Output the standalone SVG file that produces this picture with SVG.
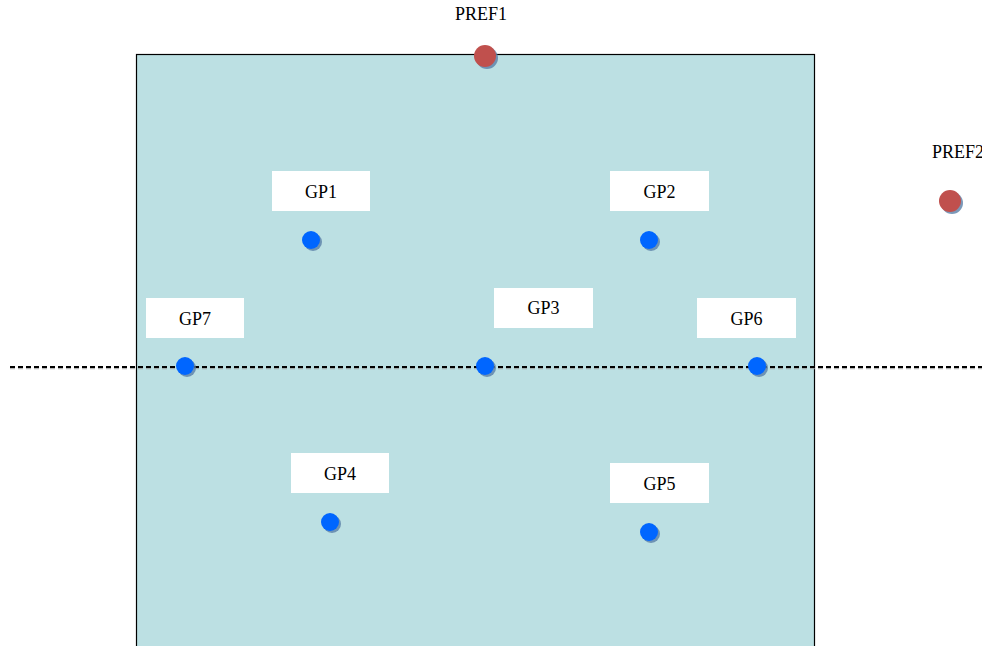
<svg xmlns="http://www.w3.org/2000/svg" width="982" height="646" viewBox="0 0 982 646">
  <style>
    text { font-family: 'Liberation Serif', 'DejaVu Serif', serif; font-size: 18px; fill: #000000; text-anchor: middle; }
    .box { fill: #FFFFFF; }
    .gp { fill: #0066FF; }
    .ref { fill: #C0504D; }
    .shadow { fill: #5A7FA8; opacity: 0.8; }
  </style>

  <rect x="0" y="0" width="982" height="646" fill="#FFFFFF"/>

  <!-- field area -->
  <rect id="field" x="136.5" y="54.5" width="678" height="600" fill="#BCE0E3" stroke="#000" stroke-width="1.2"/>

  <!-- connectors: centre line -->
  <g id="connectors">
    <line x1="10" y1="368.5" x2="982" y2="368.5" stroke="#999" stroke-width="1.5" stroke-dasharray="5 3" opacity="0.7"/>
    <line x1="10" y1="367" x2="982" y2="367" stroke="#000" stroke-width="2" stroke-dasharray="5 3"/>
  </g>

  <!-- reference points -->
  <g id="PREF1">
    <text x="481" y="20" font-family="Liberation Serif, serif">PREF1</text>
    <circle class="shadow" cx="487" cy="58" r="11"/>
    <circle class="ref" cx="485" cy="56" r="11"/>
  </g>
  <g id="PREF2">
    <text x="958" y="158" font-family="Liberation Serif, serif">PREF2</text>
    <circle class="shadow" cx="952" cy="203" r="11"/>
    <circle class="ref" cx="950" cy="201" r="11"/>
  </g>

  <!-- gauge points -->
  <g id="GP1">
    <rect class="box" x="272" y="171" width="98" height="40"/>
    <text x="321" y="198" font-family="Liberation Serif, serif">GP1</text>
    <circle class="shadow" cx="313" cy="242" r="9"/>
    <circle class="gp" cx="311" cy="240" r="9"/>
  </g>
  <g id="GP2">
    <rect class="box" x="610" y="171" width="99" height="40"/>
    <text x="659.5" y="198" font-family="Liberation Serif, serif">GP2</text>
    <circle class="shadow" cx="651" cy="242" r="9"/>
    <circle class="gp" cx="649" cy="240" r="9"/>
  </g>
  <g id="GP3">
    <rect class="box" x="494" y="288" width="99" height="40"/>
    <text x="543.5" y="314" font-family="Liberation Serif, serif">GP3</text>
    <circle class="shadow" cx="487" cy="368" r="9"/>
    <circle class="gp" cx="485" cy="366" r="9"/>
  </g>
  <g id="GP4">
    <rect class="box" x="291" y="453" width="98" height="40"/>
    <text x="340" y="480" font-family="Liberation Serif, serif">GP4</text>
    <circle class="shadow" cx="332" cy="524" r="9"/>
    <circle class="gp" cx="330" cy="522" r="9"/>
  </g>
  <g id="GP5">
    <rect class="box" x="610" y="463" width="99" height="40"/>
    <text x="659.5" y="490" font-family="Liberation Serif, serif">GP5</text>
    <circle class="shadow" cx="651" cy="534" r="9"/>
    <circle class="gp" cx="649" cy="532" r="9"/>
  </g>
  <g id="GP6">
    <rect class="box" x="697" y="298" width="99" height="40"/>
    <text x="746.5" y="325" font-family="Liberation Serif, serif">GP6</text>
    <circle class="shadow" cx="759" cy="368" r="9"/>
    <circle class="gp" cx="757" cy="366" r="9"/>
  </g>
  <g id="GP7">
    <rect class="box" x="146" y="298" width="98" height="40"/>
    <text x="195" y="325" font-family="Liberation Serif, serif">GP7</text>
    <circle class="shadow" cx="187" cy="368" r="9"/>
    <circle class="gp" cx="185" cy="366" r="9"/>
  </g>
</svg>
